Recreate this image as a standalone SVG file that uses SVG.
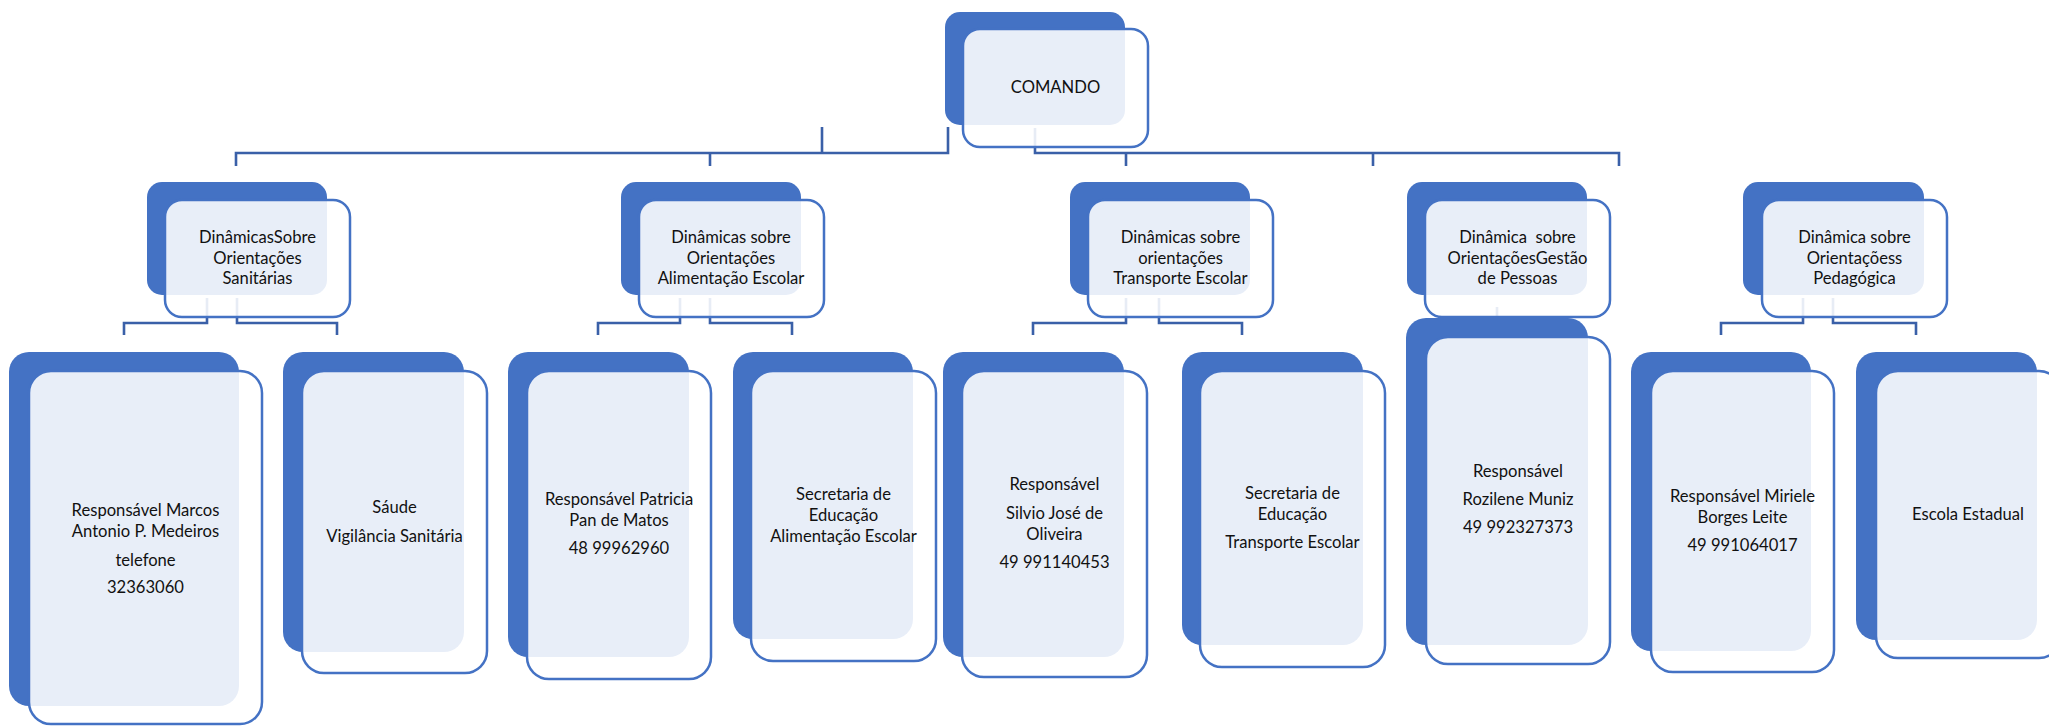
<svg xmlns="http://www.w3.org/2000/svg" width="2049" height="726" viewBox="0 0 2049 726">
<style>
.bg{fill:#ffffff}
.dk{fill:#4472C4}
.lt{fill:#ffffff;fill-opacity:0.88;stroke:#4472C4;stroke-width:2.5}
.cn{fill:none;stroke:#3A60A8;stroke-width:2.6}
text{font-family:Lato,"Liberation Sans",sans-serif;font-size:16.6px;fill:#111111;text-anchor:middle}
</style>
<rect class="bg" x="0" y="0" width="2049" height="726"/>
<g id="connectors">
<path class="cn" d="M948,127 V153 H236 V166"/>
<path class="cn" d="M822,127 V153"/>
<path class="cn" d="M710,153 V166"/>
<path class="cn" d="M1035,128 V153 H1619 V166"/>
<path class="cn" d="M1126,153 V166"/>
<path class="cn" d="M1373,153 V166"/>
<path class="cn" d="M207,298 V323 H124 V335"/>
<path class="cn" d="M237,298 V323 H337 V335"/>
<path class="cn" d="M680,298 V323 H598 V335"/>
<path class="cn" d="M710,298 V323 H792 V335"/>
<path class="cn" d="M1126,298 V323 H1033 V335"/>
<path class="cn" d="M1159,298 V323 H1242 V335"/>
<path class="cn" d="M1497,307 V318"/>
<path class="cn" d="M1803,298 V323 H1721 V335"/>
<path class="cn" d="M1833,298 V323 H1916 V335"/>
</g>
<g id="comando">
<rect class="dk" x="945" y="12" width="180" height="113" rx="15"/>
<rect class="lt" x="963" y="29" width="185" height="118" rx="17"/>
<text x="1055.5" y="93">COMANDO</text>
</g>
<g id="n-sanitarias">
<rect class="dk" x="147" y="182" width="180" height="113" rx="15"/>
<rect class="lt" x="165" y="200" width="185" height="117" rx="17"/>
<text x="257.5" y="243">DinâmicasSobre</text>
<text x="257.5" y="263.5">Orientações</text>
<text x="257.5" y="284">Sanitárias</text>
</g>
<g id="n-alimentacao">
<rect class="dk" x="621" y="182" width="180" height="113" rx="15"/>
<rect class="lt" x="639" y="200" width="185" height="117" rx="17"/>
<text x="731" y="243">Dinâmicas sobre</text>
<text x="731" y="263.5">Orientações</text>
<text x="731" y="284">Alimentação Escolar</text>
</g>
<g id="n-transporte">
<rect class="dk" x="1070" y="182" width="180" height="113" rx="15"/>
<rect class="lt" x="1088" y="200" width="185" height="117" rx="17"/>
<text x="1180.5" y="243">Dinâmicas sobre</text>
<text x="1180.5" y="263.5">orientações</text>
<text x="1180.5" y="284">Transporte Escolar</text>
</g>
<g id="n-gestao">
<rect class="dk" x="1407" y="182" width="180" height="113" rx="15"/>
<rect class="lt" x="1425" y="200" width="185" height="117" rx="17"/>
<text x="1517.5" y="243" xml:space="preserve">Dinâmica  sobre</text>
<text x="1517.5" y="263.5">OrientaçõesGestão</text>
<text x="1517.5" y="284">de Pessoas</text>
</g>
<g id="n-pedagogica">
<rect class="dk" x="1743" y="182" width="181" height="113" rx="15"/>
<rect class="lt" x="1762" y="200" width="185" height="117" rx="17"/>
<text x="1854.5" y="243">Dinâmica sobre</text>
<text x="1854.5" y="263.5">Orientaçõess</text>
<text x="1854.5" y="284">Pedagógica</text>
</g>
<g id="c-marcos">
<rect class="dk" x="9" y="352" width="230" height="354" rx="20"/>
<rect class="lt" x="29" y="371" width="233" height="353" rx="22"/>
<text x="145.5" y="516">Responsável Marcos</text>
<text x="145.5" y="537">Antonio P. Medeiros</text>
<text x="145.5" y="566">telefone</text>
<text x="145.5" y="593">32363060</text>
</g>
<g id="c-saude">
<rect class="dk" x="283" y="352" width="181" height="300" rx="20"/>
<rect class="lt" x="302" y="371" width="185" height="302" rx="22"/>
<text x="394.5" y="513">Sáude</text>
<text x="394.5" y="542">Vigilância Sanitária</text>
</g>
<g id="c-patricia">
<rect class="dk" x="508" y="352" width="181" height="305" rx="20"/>
<rect class="lt" x="527" y="371" width="184" height="308" rx="22"/>
<text x="619" y="505">Responsável Patricia</text>
<text x="619" y="526">Pan de Matos</text>
<text x="619" y="554">48 99962960</text>
</g>
<g id="c-sec-alimentacao">
<rect class="dk" x="733" y="352" width="180" height="287" rx="20"/>
<rect class="lt" x="751" y="371" width="185" height="290" rx="22"/>
<text x="843.5" y="500">Secretaria de</text>
<text x="843.5" y="521">Educação</text>
<text x="843.5" y="542">Alimentação Escolar</text>
</g>
<g id="c-silvio">
<rect class="dk" x="943" y="352" width="181" height="305" rx="20"/>
<rect class="lt" x="962" y="371" width="185" height="306" rx="22"/>
<text x="1054.5" y="490">Responsável</text>
<text x="1054.5" y="519">Silvio José de</text>
<text x="1054.5" y="540">Oliveira</text>
<text x="1054.5" y="568">49 991140453</text>
</g>
<g id="c-sec-transporte">
<rect class="dk" x="1182" y="352" width="181" height="293" rx="20"/>
<rect class="lt" x="1200" y="371" width="185" height="296" rx="22"/>
<text x="1292.5" y="499">Secretaria de</text>
<text x="1292.5" y="520">Educação</text>
<text x="1292.5" y="548">Transporte Escolar</text>
</g>
<g id="c-rozilene">
<rect class="dk" x="1406" y="318" width="182" height="327" rx="20"/>
<rect class="lt" x="1426" y="337" width="184" height="327" rx="22"/>
<text x="1518" y="477">Responsável</text>
<text x="1518" y="505">Rozilene Muniz</text>
<text x="1518" y="533">49 992327373</text>
</g>
<g id="c-miriele">
<rect class="dk" x="1631" y="352" width="180" height="299" rx="20"/>
<rect class="lt" x="1651" y="371" width="183" height="301" rx="22"/>
<text x="1742.5" y="502">Responsável Miriele</text>
<text x="1742.5" y="523">Borges Leite</text>
<text x="1742.5" y="551">49 991064017</text>
</g>
<g id="c-escola">
<rect class="dk" x="1856" y="352" width="181" height="288" rx="20"/>
<rect class="lt" x="1876" y="371" width="185" height="287" rx="22"/>
<text x="1968" y="520">Escola Estadual</text>
</g>
</svg>
